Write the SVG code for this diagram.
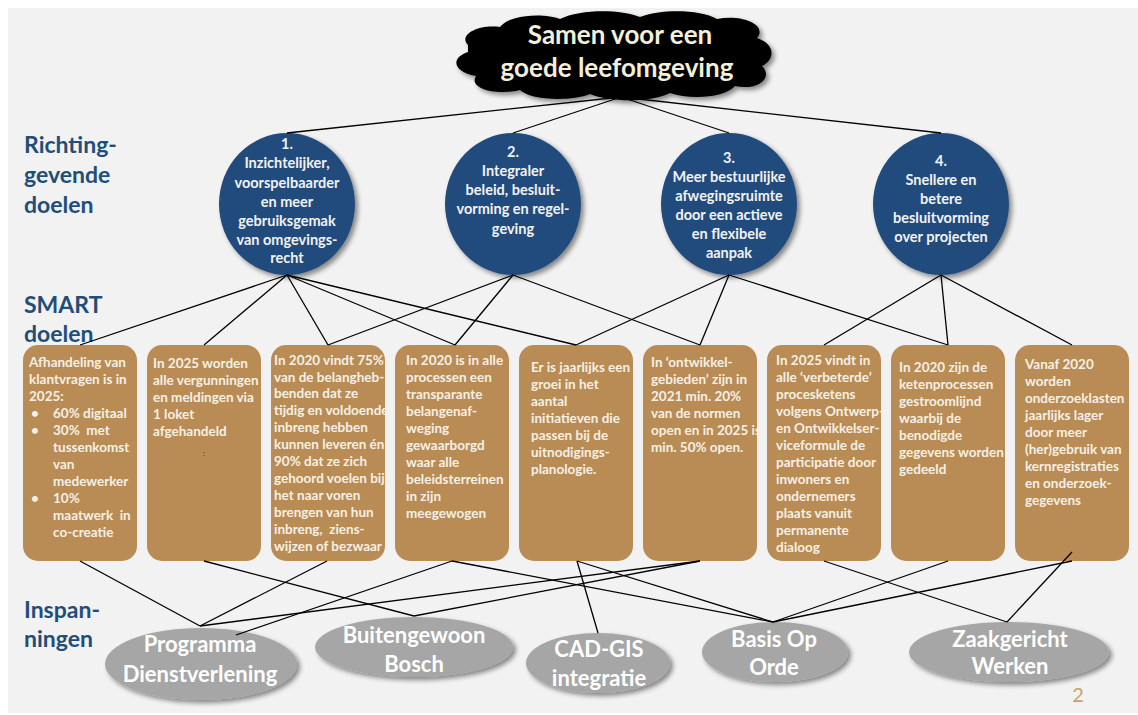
<svg xmlns="http://www.w3.org/2000/svg" width="1138" height="715" viewBox="0 0 1138 715">
<style>
.lbl{font-family:Lato,"Liberation Sans",sans-serif;font-weight:bold;font-size:23px;fill:#1f4e79}
.ct{font-family:Lato,"Liberation Sans",sans-serif;font-weight:bold;font-size:14.5px;fill:#f2f2f2;text-anchor:middle}
.bt{font-family:Lato,"Liberation Sans",sans-serif;font-weight:bold;font-size:13.5px;fill:#f6f0e4;white-space:pre}
.et{font-family:Lato,"Liberation Sans",sans-serif;font-weight:bold;font-size:22px;fill:#ffffff;text-anchor:middle}
.circ{fill:#224c7d}
.box{fill:#b98c56}
.ell{fill:#a6a6a6}
.conn line{stroke:#000;stroke-width:1.3}
</style>
<defs>
<filter id="sh" x="-20%" y="-20%" width="150%" height="150%">
<feGaussianBlur in="SourceAlpha" stdDeviation="2.5"/>
<feOffset dx="3" dy="3"/>
<feComponentTransfer><feFuncA type="linear" slope="0.45"/></feComponentTransfer>
<feMerge><feMergeNode/><feMergeNode in="SourceGraphic"/></feMerge>
</filter>
</defs>
<rect x="0" y="0" width="1138" height="715" fill="#ffffff"/>
<rect x="8" y="8" width="1130" height="705" fill="#f2f2f2"/>

<g id="labels">
<text class="lbl" x="24" y="153">Richting-</text>
<text class="lbl" x="24" y="183">gevende</text>
<text class="lbl" x="24" y="213">doelen</text>
<text class="lbl" x="24" y="313">SMART</text>
<text class="lbl" x="24" y="342">doelen</text>
<text class="lbl" x="24" y="618">Inspan-</text>
<text class="lbl" x="24" y="647">ningen</text>
</g>

<g id="cloud">
<path filter="url(#sh)" fill="#000" d="M468,45 C458,35 478,24 500,27 C510,14 545,13 560,19 C580,9 620,9 640,17 C660,9 700,9 717,19 C742,14 768,25 757,38 C777,45 774,60 762,66 C774,78 757,91 735,86 C725,98 690,100 670,93 C650,103 610,102 590,94 C570,102 530,100 520,90 C495,96 468,88 476,76 C453,72 450,58 468,52 Z"/>
<text x="620" y="44" font-family="Lato,'Liberation Sans',sans-serif" font-weight="bold" font-size="26" fill="#f3efd9" text-anchor="middle">Samen voor een</text>
<text x="617" y="77" font-family="Lato,'Liberation Sans',sans-serif" font-weight="bold" font-size="26" fill="#f3efd9" text-anchor="middle">goede leefomgeving</text>
</g>

<g id="goal1">
<ellipse class="circ" filter="url(#sh)" cx="287" cy="204" rx="68" ry="71"/>
<text class="ct"><tspan x="287" y="149">1.</tspan><tspan x="287" y="168">Inzichtelijker,</tspan><tspan x="287" y="188">voorspelbaarder</tspan><tspan x="287" y="207">en meer</tspan><tspan x="287" y="226">gebruiksgemak</tspan><tspan x="287" y="245">van omgevings-</tspan><tspan x="287" y="263">recht</tspan></text>
</g>
<g id="goal2">
<ellipse class="circ" filter="url(#sh)" cx="513" cy="204" rx="68" ry="71"/>
<text class="ct"><tspan x="513" y="157">2.</tspan><tspan x="513" y="176">Integraler</tspan><tspan x="513" y="195">beleid, besluit-</tspan><tspan x="513" y="214">vorming en regel-</tspan><tspan x="513" y="234">geving</tspan></text>
</g>
<g id="goal3">
<ellipse class="circ" filter="url(#sh)" cx="729" cy="204" rx="68" ry="71"/>
<text class="ct"><tspan x="729" y="163">3.</tspan><tspan x="729" y="182">Meer bestuurlijke</tspan><tspan x="729" y="201">afwegingsruimte</tspan><tspan x="729" y="220">door een actieve</tspan><tspan x="729" y="239">en flexibele</tspan><tspan x="729" y="258">aanpak</tspan></text>
</g>
<g id="goal4">
<ellipse class="circ" filter="url(#sh)" cx="941" cy="204" rx="68" ry="71"/>
<text class="ct"><tspan x="941" y="166">4.</tspan><tspan x="941" y="185">Snellere en</tspan><tspan x="941" y="204">betere</tspan><tspan x="941" y="223">besluitvorming</tspan><tspan x="941" y="242">over projecten</tspan></text>
</g>

<g id="smart1">
<rect class="box" x="23" y="345" width="114" height="216" rx="15"/>
<text class="bt"><tspan x="29" y="367">Afhandeling van</tspan><tspan x="29" y="384">klantvragen is in</tspan><tspan x="29" y="401">2025:</tspan></text>
<text class="bt"><tspan x="31" y="418">•</tspan><tspan x="53" y="418">60% digitaal</tspan><tspan x="31" y="435">•</tspan><tspan x="53" y="435">30%  met</tspan><tspan x="53" y="452">tussenkomst</tspan><tspan x="53" y="469">van</tspan><tspan x="53" y="486">medewerker</tspan><tspan x="31" y="503">•</tspan><tspan x="53" y="503">10%</tspan><tspan x="53" y="520">maatwerk  in</tspan><tspan x="53" y="537">co-creatie</tspan></text>
</g>
<g id="smart2">
<rect class="box" x="147" y="345" width="114" height="216" rx="15"/>
<text class="bt"><tspan x="153" y="368">In 2025 worden</tspan><tspan x="153" y="385">alle vergunningen</tspan><tspan x="153" y="402">en meldingen via</tspan><tspan x="153" y="419">1 loket</tspan><tspan x="153" y="436">afgehandeld</tspan></text>
<text x="203" y="456" font-family="Lato,'Liberation Sans',sans-serif" font-size="8" fill="#333">:</text>
</g>
<g id="smart3">
<rect class="box" x="271" y="345" width="114" height="216" rx="15"/>
<text class="bt"><tspan x="274" y="365">In 2020 vindt 75%</tspan><tspan x="274" y="382">van de belangheb-</tspan><tspan x="274" y="398">benden dat ze</tspan><tspan x="274" y="415">tijdig en voldoende</tspan><tspan x="274" y="432">inbreng hebben</tspan><tspan x="274" y="449">kunnen leveren én</tspan><tspan x="274" y="466">90% dat ze zich</tspan><tspan x="274" y="483">gehoord voelen bij</tspan><tspan x="274" y="500">het naar voren</tspan><tspan x="274" y="517">brengen van hun</tspan><tspan x="274" y="534">inbreng,  ziens-</tspan><tspan x="274" y="551">wijzen of bezwaar</tspan></text>
</g>
<g id="smart4">
<rect class="box" x="395" y="345" width="114" height="216" rx="15"/>
<text class="bt"><tspan x="406" y="365">In 2020 is in alle</tspan><tspan x="406" y="382">processen een</tspan><tspan x="406" y="399">transparante</tspan><tspan x="406" y="416">belangenaf-</tspan><tspan x="406" y="433">weging</tspan><tspan x="406" y="450">gewaarborgd</tspan><tspan x="406" y="467">waar alle</tspan><tspan x="406" y="484">beleidsterreinen</tspan><tspan x="406" y="501">in zijn</tspan><tspan x="406" y="518">meegewogen</tspan></text>
</g>
<g id="smart5">
<rect class="box" x="519" y="345" width="114" height="216" rx="15"/>
<text class="bt"><tspan x="531" y="372">Er is jaarlijks een</tspan><tspan x="531" y="389">groei in het</tspan><tspan x="531" y="406">aantal</tspan><tspan x="531" y="423">initiatieven die</tspan><tspan x="531" y="440">passen bij de</tspan><tspan x="531" y="457">uitnodigings-</tspan><tspan x="531" y="474">planologie.</tspan></text>
</g>
<g id="smart6">
<rect class="box" x="643" y="345" width="114" height="216" rx="15"/>
<text class="bt"><tspan x="651" y="367">In ‘ontwikkel-</tspan><tspan x="651" y="384">gebieden’ zijn in</tspan><tspan x="651" y="401">2021 min. 20%</tspan><tspan x="651" y="418">van de normen</tspan><tspan x="651" y="435">open en in 2025 is</tspan><tspan x="651" y="452">min. 50% open.</tspan></text>
</g>
<g id="smart7">
<rect class="box" x="767" y="345" width="114" height="216" rx="15"/>
<text class="bt"><tspan x="776" y="365">In 2025 vindt in</tspan><tspan x="776" y="382">alle ‘verbeterde’</tspan><tspan x="776" y="399">procesketens</tspan><tspan x="776" y="416">volgens Ontwerp-</tspan><tspan x="776" y="433">en Ontwikkelser-</tspan><tspan x="776" y="450">viceformule de</tspan><tspan x="776" y="467">participatie door</tspan><tspan x="776" y="484">inwoners en</tspan><tspan x="776" y="501">ondernemers</tspan><tspan x="776" y="518">plaats vanuit</tspan><tspan x="776" y="535">permanente</tspan><tspan x="776" y="552">dialoog</tspan></text>
</g>
<g id="smart8">
<rect class="box" x="891" y="345" width="114" height="216" rx="15"/>
<text class="bt"><tspan x="899" y="372">In 2020 zijn de</tspan><tspan x="899" y="389">ketenprocessen</tspan><tspan x="899" y="406">gestroomlijnd</tspan><tspan x="899" y="423">waarbij de</tspan><tspan x="899" y="440">benodigde</tspan><tspan x="899" y="457">gegevens worden</tspan><tspan x="899" y="474">gedeeld</tspan></text>
</g>
<g id="smart9">
<rect class="box" x="1015" y="345" width="114" height="216" rx="15"/>
<text class="bt"><tspan x="1025" y="369">Vanaf 2020</tspan><tspan x="1025" y="386">worden</tspan><tspan x="1025" y="403">onderzoeklasten</tspan><tspan x="1025" y="420">jaarlijks lager</tspan><tspan x="1025" y="437">door meer</tspan><tspan x="1025" y="454">(her)gebruik van</tspan><tspan x="1025" y="471">kernregistraties</tspan><tspan x="1025" y="488">en onderzoek-</tspan><tspan x="1025" y="505">gegevens</tspan></text>
</g>

<g id="effort1">
<ellipse class="ell" filter="url(#sh)" cx="201" cy="664" rx="96" ry="36"/>
<text class="et"><tspan x="200" y="652">Programma</tspan><tspan x="200" y="682">Dienstverlening</tspan></text>
</g>
<g id="effort2">
<ellipse class="ell" filter="url(#sh)" cx="414" cy="647" rx="99" ry="30"/>
<text class="et"><tspan x="414" y="643">Buitengewoon</tspan><tspan x="414" y="672">Bosch</tspan></text>
</g>
<g id="effort3">
<ellipse class="ell" filter="url(#sh)" cx="598" cy="663" rx="72" ry="30"/>
<text class="et"><tspan x="599" y="657">CAD-GIS</tspan><tspan x="599" y="686">integratie</tspan></text>
</g>
<g id="effort4">
<ellipse class="ell" filter="url(#sh)" cx="775" cy="652" rx="73" ry="30"/>
<text class="et"><tspan x="774" y="647">Basis Op</tspan><tspan x="774" y="675">Orde</tspan></text>
</g>
<g id="effort5">
<ellipse class="ell" filter="url(#sh)" cx="1009" cy="652" rx="100" ry="30"/>
<text class="et"><tspan x="1010" y="647">Zaakgericht</tspan><tspan x="1010" y="674">Werken</tspan></text>
</g>

<g id="connectors" class="conn">
<line x1="621" y1="97" x2="287" y2="133"/>
<line x1="621" y1="97" x2="513" y2="133"/>
<line x1="621" y1="97" x2="729" y2="133"/>
<line x1="621" y1="97" x2="941" y2="133"/>
<line x1="287" y1="275" x2="80" y2="345"/>
<line x1="287" y1="275" x2="204" y2="345"/>
<line x1="287" y1="275" x2="328" y2="345"/>
<line x1="287" y1="275" x2="455" y2="345"/>
<line x1="287" y1="275" x2="576" y2="345"/>
<line x1="513" y1="275" x2="328" y2="345"/>
<line x1="513" y1="275" x2="455" y2="345"/>
<line x1="513" y1="275" x2="700" y2="345"/>
<line x1="729" y1="275" x2="576" y2="345"/>
<line x1="729" y1="275" x2="700" y2="345"/>
<line x1="729" y1="275" x2="948" y2="345"/>
<line x1="941" y1="275" x2="824" y2="345"/>
<line x1="941" y1="275" x2="948" y2="345"/>
<line x1="941" y1="275" x2="1072" y2="345"/>
<line x1="80" y1="561" x2="200" y2="626"/>
<line x1="204" y1="561" x2="414" y2="616"/>
<line x1="327" y1="561" x2="200" y2="626"/>
<line x1="452" y1="561" x2="236" y2="635"/>
<line x1="452" y1="561" x2="773" y2="622"/>
<line x1="577" y1="561" x2="598" y2="633"/>
<line x1="577" y1="561" x2="773" y2="622"/>
<line x1="700" y1="561" x2="200" y2="626"/>
<line x1="700" y1="561" x2="414" y2="616"/>
<line x1="824" y1="561" x2="1007" y2="622"/>
<line x1="948" y1="561" x2="773" y2="622"/>
<line x1="1072" y1="561" x2="773" y2="622"/>
<line x1="1072" y1="552" x2="1007" y2="622"/>
</g>

<text x="1078" y="702" font-family="Lato,'Liberation Sans',sans-serif" font-size="20" fill="#c4a36b" text-anchor="middle">2</text>
</svg>
